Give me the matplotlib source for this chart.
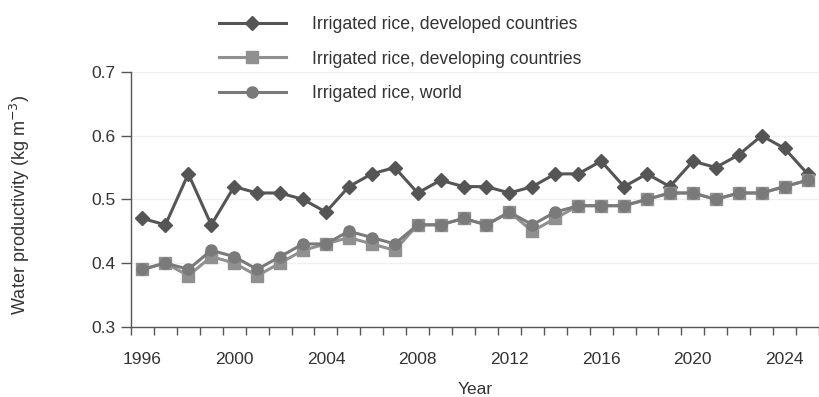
import matplotlib
matplotlib.use('Agg')
import matplotlib.pyplot as plt

plt.rcParams['font.family'] = ['Liberation Sans', 'DejaVu Sans']

# 数据
years = list(range(1996, 2026))
developed = [0.47, 0.46, 0.54, 0.46, 0.52, 0.51, 0.51, 0.50, 0.48, 0.52,
             0.54, 0.55, 0.51, 0.53, 0.52, 0.52, 0.51, 0.52, 0.54, 0.54,
             0.56, 0.52, 0.54, 0.52, 0.56, 0.55, 0.57, 0.60, 0.58, 0.54]
developing = [0.39, 0.40, 0.38, 0.41, 0.40, 0.38, 0.40, 0.42, 0.43, 0.44,
              0.43, 0.42, 0.46, 0.46, 0.47, 0.46, 0.48, 0.45, 0.47, 0.49,
              0.49, 0.49, 0.50, 0.51, 0.51, 0.50, 0.51, 0.51, 0.52, 0.53]
world = [0.39, 0.40, 0.39, 0.42, 0.41, 0.39, 0.41, 0.43, 0.43, 0.45,
         0.44, 0.43, 0.46, 0.46, 0.47, 0.46, 0.48, 0.46, 0.48, 0.49,
         0.49, 0.49, 0.50, 0.51, 0.51, 0.50, 0.51, 0.51, 0.52, 0.53]
year_labels = [1996, 2000, 2004, 2008, 2012, 2016, 2020, 2024]
y_ticks = [0.3, 0.4, 0.5, 0.6, 0.7]

fig = plt.figure(figsize=(8.19, 3.97), dpi=100)
ax = fig.add_axes([131 / 819, 1 - 326.7 / 397, 1 - 131 / 819, (326.7 - 72) / 397])

ax.plot(years, developed, '-D', color='#555555', lw=2.2, ms=7,
        label='Irrigated rice, developed countries', clip_on=False, zorder=3)
ax.plot(years, developing, '-s', color='#909090', lw=2.2, ms=8,
        label='Irrigated rice, developing countries', clip_on=False, zorder=4)
ax.plot(years, world, '-o', color='#7a7a7a', lw=2.2, ms=8,
        label='Irrigated rice, world', clip_on=False, zorder=5)

ax.set_xlim(1995.53, 2025.06)
ax.set_ylim(0.3, 0.7)

# 刻度：年份标签居中，短刻度线在年份之间
ax.set_xticks(year_labels)
ax.set_xticklabels([str(y) for y in year_labels])
ax.set_xticks([y - 0.5 for y in years] + [2025.5], minor=True)
ax.tick_params(axis='x', which='major', length=0, pad=18, labelsize=12.5, labelcolor='#333333')
ax.tick_params(axis='x', which='minor', length=6, width=1, color='#555555', direction='out')
ax.set_yticks(y_ticks)
ax.set_yticklabels(['%.1f' % v for v in y_ticks])
ax.tick_params(axis='y', length=7, width=1, color='#555555', pad=4,
               labelsize=12.5, labelcolor='#333333')

# 网格与边框
ax.grid(axis='y', color='#f0f0f0', lw=1)
ax.set_axisbelow(True)
for s in ['top', 'right']:
    ax.spines[s].set_visible(False)
for s in ['left', 'bottom']:
    ax.spines[s].set_color('#555555')
    ax.spines[s].set_linewidth(1)

ax.set_xlabel('Year', fontsize=12.5, color='#333333', labelpad=11)
fig.text(20 / 819, 1 - 205 / 397, 'Water productivity (kg m$^{-3}$)', rotation=90,
         ha='center', va='center', fontsize=13, color='#333333')

fig.legend(loc='upper left', bbox_to_anchor=(203 / 819, 1.0),
           frameon=False, fontsize=12.7, handlelength=3.8, handletextpad=1.5,
           labelspacing=1.0, labelcolor='#333333')

fig.savefig('out.png', dpi=100)
